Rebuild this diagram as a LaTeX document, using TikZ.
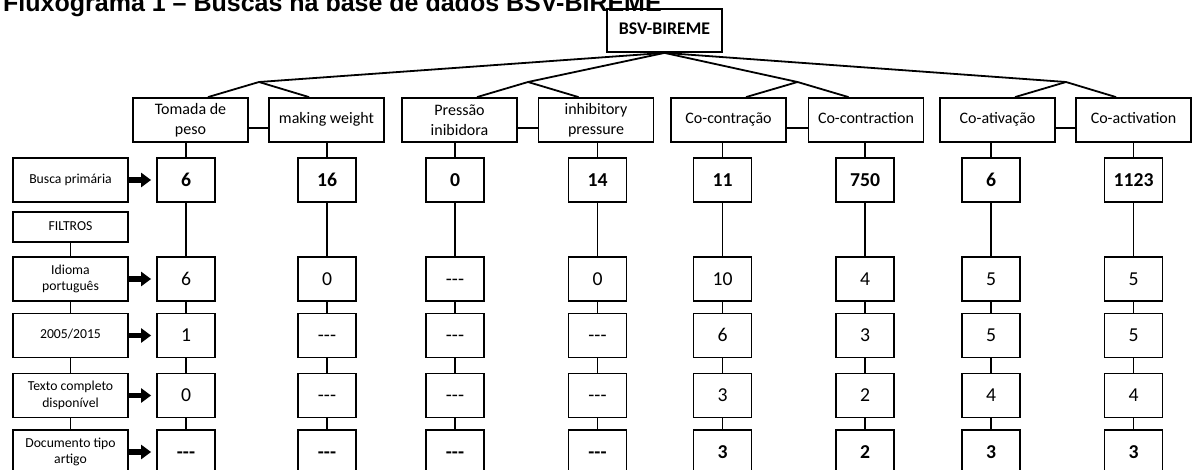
\documentclass[tikz,border=0pt]{standalone}
\usepackage{fontspec}
\setmainfont{Carlito}
\newfontfamily\titlefont{Liberation Sans}
\usetikzlibrary{arrows.meta}

\newcommand{\nores}{-{}-{}-}

\tikzset{
  termbox/.style={draw, line width=1.8pt, minimum width=115pt, minimum height=44pt, inner sep=0pt, align=center, font=\fontsize{16}{19.5}\selectfont},
  termone/.style={termbox, text height=11pt, text depth=3.5pt},
  rowbox/.style={draw, line width=1.8pt, minimum width=115pt, minimum height=44pt, inner sep=0pt, align=center, font=\fontsize{13.7}{16.7}\selectfont},
  rowone/.style={rowbox, text height=9.5pt, text depth=3pt},
  numbox/.style={draw, line width=1.8pt, minimum width=58pt, minimum height=44pt, inner sep=0pt, text height=12.4pt, text depth=0pt, font=\fontsize{19.7}{22}\selectfont},
  numbold/.style={numbox, font=\bfseries\fontsize{19.7}{22}\selectfont},
  link/.style={line width=1.8pt, line join=round},
  bigarrow/.style={line width=5.5pt, -{Triangle[length=10pt,width=14pt]}, shorten >=5pt}
}

\begin{document}
\begin{tikzpicture}[x=1pt,y=-1pt]
  \useasboundingbox (0,0) rectangle (1193,470);
  \clip (0,0) rectangle (1193,470);
  % titulo (cortado no topo)
  \node[anchor=base west, inner sep=0pt, font=\titlefont\bfseries\fontsize{25}{30}\selectfont] (title) at (3,11.5) {Fluxograma 1 – Buscas na base de dados BSV-BIREME};

  \node[termone, minimum height=43pt, font=\bfseries\fontsize{17.8}{20}\selectfont] (bsv) at (664.5,30.5) {BSV-BIREME};

  % descritores
  \node[termbox] (t1) at (190.5,120) {Tomada de\\peso};
  \node[termone] (t2) at (326.5,120) {making weight};
  \node[termbox] (t3) at (459.5,120) {Pressão\\inibidora};
  \node[termbox] (t4) at (596,120) {inhibitory\\pressure};
  \node[termone] (t5) at (728.5,120) {Co-contração};
  \node[termone] (t6) at (866,120) {Co-contraction};
  \node[termone] (t7) at (997.5,120) {Co-ativação};
  \node[termone] (t8) at (1133.5,120) {Co-activation};

  \coordinate (j1) at (259,82);
  \coordinate (j2) at (528,82);
  \coordinate (j3) at (797.5,82);
  \coordinate (j4) at (1066,82);
  \foreach \j/\l/\r in {j1/t1/t2, j2/t3/t4, j3/t5/t6, j4/t7/t8}{
    \draw[link] (bsv.south) -- (\j);
    \draw[link] ([xshift=17.5pt]\l.north) -- (\j) -- ([xshift=-17.5pt]\r.north);
    \draw[link] ([yshift=-8pt]\l.east) -- ([yshift=-8pt]\r.west);
  }

  % filtros
  \node[rowone] (h1) at (70.5,180) {Busca primária};
  \node[rowone, minimum height=30pt] (hf) at (70.5,227) {FILTROS};
  \node[rowbox] (h2) at (70.5,279) {Idioma\\português};
  \node[rowone] (h3) at (70.5,335.5) {2005/2015};
  \node[rowbox] (h4) at (70.5,395.5) {Texto completo\\disponível};
  \node[rowbox] (h5) at (70.5,452) {Documento tipo\\artigo};
  \draw[link] (hf) -- (h2) -- (h3) -- (h4) -- (h5);

  % resultados
  \foreach \c/\x/\pa/\pb/\pc/\pd/\pe in {
      1/186/6/6/1/0/\nores,
      2/327/16/0/\nores/\nores/\nores,
      3/455/0/\nores/\nores/\nores/\nores,
      4/597.5/14/0/\nores/\nores/\nores,
      5/722.5/11/10/6/3/3,
      6/865/750/4/3/2/2,
      7/991/6/5/5/4/3,
      8/1133.5/1123/5/5/4/3}{
    \node[numbold] (v\c-1) at (\x,180) {\pa};
    \node[numbox] (v\c-2) at (\x,279) {\pb};
    \node[numbox] (v\c-3) at (\x,335.5) {\pc};
    \node[numbox] (v\c-4) at (\x,395.5) {\pd};
    \node[numbold] (v\c-5) at (\x,452) {\pe};
    \draw[link] (t\c.south -| v\c-1.north) -- (v\c-1) -- (v\c-2) -- (v\c-3) -- (v\c-4) -- (v\c-5);
  }

  \foreach \r in {1,...,5}{
    \draw[bigarrow] (h\r.east) -- (v1-\r.west);
  }
\end{tikzpicture}
\end{document}
